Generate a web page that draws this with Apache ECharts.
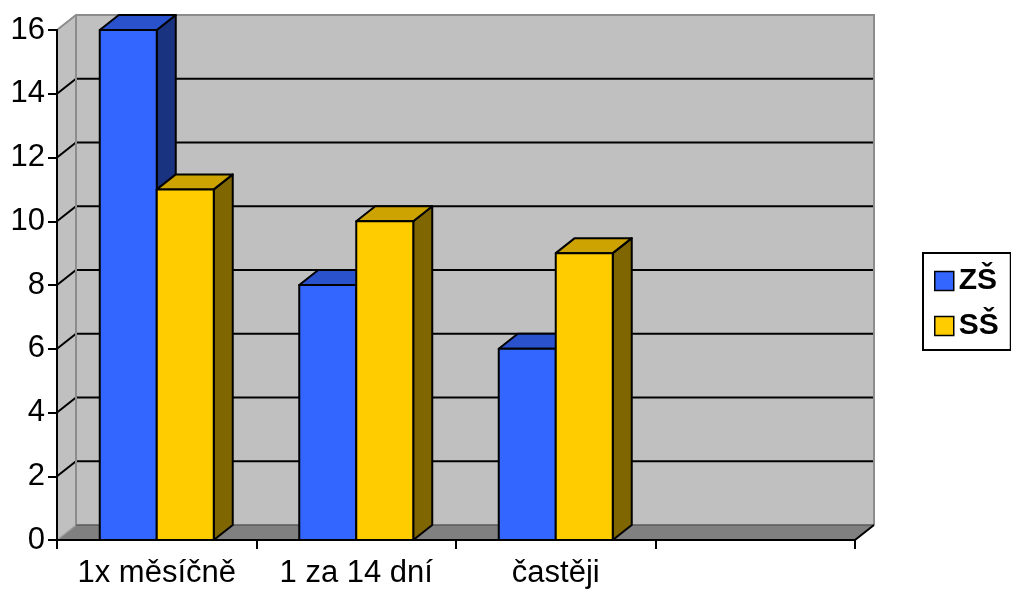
<!DOCTYPE html>
<html>
<head>
<meta charset="utf-8">
<script src="https://cdn.jsdelivr.net/npm/echarts@6/dist/echarts.min.js"></script>
<style>
  html, body { margin: 0; padding: 0; background: #ffffff; }
  #chart { width: 1011px; height: 590px; }
</style>
</head>
<body>
<div id="chart"></div>
<script>
// Frequency categories and counts per school type
const categories = ['1x měsíčně', '1 za 14 dní', 'častěji', ''];
const zsValues = [16, 8, 6];
const ssValues = [11, 10, 9];
const yTicks = [0, 2, 4, 6, 8, 10, 12, 14, 16];
const seriesNames = ['ZŠ', 'SŠ'];

// Pseudo-3D look: depth offset of walls and columns, in pixels
const DEPTH_X = 19;
const DEPTH_Y = -15;
const BAR_FRACTION = 57 / 199.5;
const FONT = '"Liberation Sans", Arial, Helvetica, sans-serif';

const PALETTE = {
  'ZŠ': { front: '#3366FF', top: '#2952CC', side: '#1A3380' },
  'SŠ': { front: '#FFCC00', top: '#CCA300', side: '#806600' }
};

function line(points, stroke, width) {
  return { type: 'polyline', shape: { points: points }, style: { stroke: stroke, lineWidth: width, fill: null } };
}

// Back wall, left side wall, floor and gridlines
function renderWalls(params, api) {
  const cs = params.coordSys;
  const x0 = cs.x, x1 = cs.x + cs.width;
  const yTop = cs.y, yBot = cs.y + cs.height;
  const dx = DEPTH_X, dy = DEPTH_Y;
  const children = [];
  children.push({ type: 'polygon', shape: { points: [[x0 + dx, yTop + dy], [x1 + dx, yTop + dy], [x1 + dx, yBot + dy], [x0 + dx, yBot + dy]] },
    style: { fill: '#C0C0C0' } });
  children.push({ type: 'polygon', shape: { points: [[x0, yTop], [x0 + dx, yTop + dy], [x0 + dx, yBot + dy], [x0, yBot]] },
    style: { fill: '#C0C0C0' } });
  children.push({ type: 'polygon', shape: { points: [[x0, yBot], [x0 + dx, yBot + dy], [x1 + dx, yBot + dy], [x1, yBot]] },
    style: { fill: '#808080' } });
  yTicks.forEach(function (v) {
    if (v === yTicks[0] || v === yTicks[yTicks.length - 1]) return;
    const y = api.coord([0, v])[1];
    children.push(line([[x0, y], [x0 + dx, y + dy], [x1 + dx, y + dy]], '#000000', 2));
  });
  // wall edges
  children.push(line([[x0, yTop], [x0 + dx, yTop + dy], [x1 + dx, yTop + dy], [x1 + dx, yBot + dy]], '#8C8C8C', 2));
  children.push(line([[x0 + dx, yTop + dy], [x0 + dx, yBot + dy]], '#8C8C8C', 2));
  children.push(line([[x0, yBot], [x0 + dx, yBot + dy]], '#A0A0A0', 1.5));
  children.push(line([[x0 + dx, yBot + dy], [x1 + dx, yBot + dy]], '#5A5A5A', 1.5));
  children.push(line([[x1, yBot], [x1 + dx, yBot + dy]], '#000000', 2));
  return { type: 'group', children: children };
}

// A column with front, top and right side faces
function makeColumnRenderer(name, leftOfCenter) {
  const c = PALETTE[name];
  return function (params, api) {
    const idx = api.value(0);
    const val = api.value(1);
    const topPt = api.coord([idx, val]);
    const basePt = api.coord([idx, 0]);
    const band = api.size([1, 0])[0];
    const w = band * BAR_FRACTION;
    const left = leftOfCenter ? topPt[0] - w : topPt[0];
    const right = left + w;
    const yT = topPt[1], yB = basePt[1];
    const dx = DEPTH_X, dy = DEPTH_Y;
    const edge = { stroke: '#000000', lineWidth: 2, lineJoin: 'round' };
    return {
      type: 'group',
      children: [
        { type: 'polygon', shape: { points: [[right, yT], [right + dx, yT + dy], [right + dx, yB + dy], [right, yB]] },
          style: Object.assign({ fill: c.side }, edge) },
        { type: 'polygon', shape: { points: [[left, yT], [left + dx, yT + dy], [right + dx, yT + dy], [right, yT]] },
          style: Object.assign({ fill: c.top }, edge) },
        { type: 'rect', shape: { x: left, y: yT, width: w, height: yB - yT },
          style: Object.assign({ fill: c.front }, edge) }
      ]
    };
  };
}

const chart = echarts.init(document.getElementById('chart'), null, { renderer: 'canvas' });

chart.setOption({
  animation: false,
  backgroundColor: '#ffffff',
  grid: { left: 57, right: 156, top: 30, bottom: 50, containLabel: false },
  legend: {
    orient: 'vertical',
    left: 923,
    top: 253,
    padding: [13, 12, 9, 11],
    itemWidth: 19,
    itemHeight: 19,
    itemGap: 15,
    icon: 'rect',
    borderColor: '#000000',
    borderWidth: 2,
    selectedMode: false,
    textStyle: { fontFamily: FONT, fontSize: 30, fontWeight: 'bold', color: '#000000' },
    data: seriesNames.map(function (n) {
      return { name: n, itemStyle: { color: PALETTE[n].front, borderColor: '#000000', borderWidth: 1.5 } };
    })
  },
  xAxis: {
    type: 'category',
    data: categories,
    boundaryGap: true,
    z: 10,
    axisLine: { show: true, lineStyle: { color: '#000000', width: 2 } },
    axisTick: { show: true, alignWithLabel: false, interval: 0, length: 9, lineStyle: { color: '#000000', width: 2 } },
    axisLabel: { interval: 0, margin: 18, fontFamily: FONT, fontSize: 31, color: '#000000' },
    splitLine: { show: false }
  },
  yAxis: {
    type: 'value',
    min: 0,
    max: 16,
    interval: 2,
    z: 10,
    axisLine: { show: true, lineStyle: { color: '#000000', width: 2 } },
    axisTick: { show: true, length: 9, lineStyle: { color: '#000000', width: 2 } },
    axisLabel: { margin: 12, fontFamily: FONT, fontSize: 31, color: '#000000' },
    splitLine: { show: false }
  },
  series: [
    {
      name: 'walls',
      type: 'custom',
      silent: true,
      clip: false,
      z: 1,
      renderItem: renderWalls,
      data: [[0, 0]]
    },
    {
      name: 'ZŠ',
      type: 'custom',
      clip: false,
      z: 2,
      itemStyle: { color: PALETTE['ZŠ'].front },
      renderItem: makeColumnRenderer('ZŠ', true),
      data: zsValues.map(function (v, i) { return [i, v]; })
    },
    {
      name: 'SŠ',
      type: 'custom',
      clip: false,
      z: 3,
      itemStyle: { color: PALETTE['SŠ'].front },
      renderItem: makeColumnRenderer('SŠ', false),
      data: ssValues.map(function (v, i) { return [i, v]; })
    }
  ]
});
</script>
</body>
</html>
